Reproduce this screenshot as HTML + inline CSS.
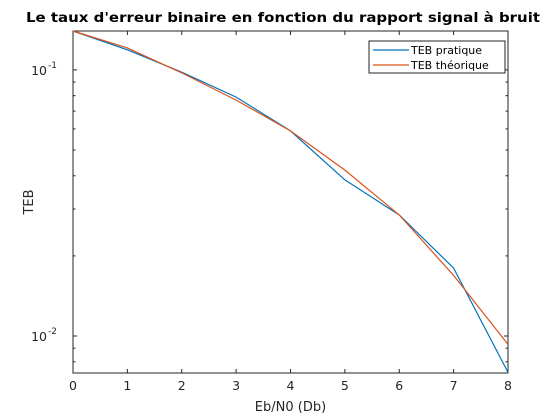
<!DOCTYPE html>
<html><head><meta charset="utf-8"><style>body{margin:0;background:#fff}svg{display:block;font-family:"DejaVu Sans","Liberation Sans",sans-serif}</style></head>
<body>
<svg id="chart" width="560" height="420" xmlns="http://www.w3.org/2000/svg">
<rect width="560" height="420" fill="#fff"/>
<g id="g"></g>
</svg>
<script>
const xValues=[0,1,2,3,4,5,6,7,8];
const tebPratique=[0.140,0.119,0.098,0.079,0.059,0.0386,0.0285,0.018,0.0073];
const tebTheorique=[0.140,0.121,0.0974,0.077,0.059,0.042,0.0285,0.0169,0.0093];
const xTicks=[0,1,2,3,4,5,6,7,8];
const yMajor=[0.1,0.01];
const L=73,R=508,T=31,B=373;
const yMin=0.00726,yMax=0.140;
const sx=v=>L+(v-0)/(8-0)*(R-L);
const sy=v=>B-(Math.log10(v)-Math.log10(yMin))/(Math.log10(yMax)-Math.log10(yMin))*(B-T);
const g=document.getElementById('g');
const NS='http://www.w3.org/2000/svg';
function el(t,a,txt){const e=document.createElementNS(NS,t);for(const k in a)e.setAttribute(k,a[k]);if(txt!==undefined)e.textContent=txt;g.appendChild(e);return e;}
let e;
e=el('rect',{x:L,y:T,width:R-L,height:B-T,fill:'#fff',stroke:'#262626','stroke-width':1});


xTicks.forEach(t=>{const x=sx(t);
 e=el('line',{x1:x,x2:x,y1:B,y2:B-4,stroke:'#262626'});
 
 
 el('line',{x1:x,x2:x,y1:T,y2:T+4,stroke:'#262626'});
 e=el('text',{x:x,y:B+17,'text-anchor':'middle','font-size':12.5,fill:'#262626'},String(t));
 
 
});
for(let d=-3;d<=-1;d++){for(let m=1;m<=9;m++){const v=m*Math.pow(10,d);if(v<yMin||v>yMax)continue;const y=sy(v);const len=m===1?4:2.5;
 e=el('line',{x1:L,x2:L+len,y1:y,y2:y,stroke:'#262626'});
 
 
 el('line',{x1:R,x2:R-len,y1:y,y2:y,stroke:'#262626'});}}
yMajor.forEach(v=>{const y=sy(v);const ex=Math.round(Math.log10(v));
 e=el('text',{x:L-26,y:y+5,'text-anchor':'end','font-size':12.5,fill:'#262626'},'10');
 
 
 el('text',{x:L-25,y:y-2,'text-anchor':'start','font-size':9,fill:'#262626'},String(ex));
});
function series(vals,color,name){const d=vals.map((v,i)=>(i?'L':'M')+sx(xValues[i]).toFixed(1)+','+sy(v).toFixed(1)).join('');
 e=el('path',{d:d,fill:'none',stroke:color,'stroke-width':1.2});
 
 }
series(tebPratique,'#0072bd','series-teb-pratique');
series(tebTheorique,'#d95319','series-teb-theorique');
e=el('text',{x:283,y:22,'text-anchor':'middle','font-size':13.5,'font-weight':'bold',fill:'#000',textLength:514,lengthAdjust:'spacingAndGlyphs'},"Le taux d'erreur binaire en fonction du rapport signal à bruit");


e=el('text',{x:(L+R)/2,y:411,'text-anchor':'middle','font-size':13,fill:'#262626'},'Eb/N0 (Db)');


e=el('text',{x:0,y:0,'text-anchor':'middle','font-size':13,fill:'#262626',transform:`translate(33,${(T+B)/2}) rotate(-90)`},'TEB');


e=el('rect',{x:369,y:41,width:136,height:32,fill:'#fff',stroke:'#262626','stroke-width':1});


e=el('line',{x1:373,x2:409,y1:50,y2:50,stroke:'#0072bd','stroke-width':1.2});


e=el('text',{x:411,y:54,'font-size':11,fill:'#000'},'TEB pratique');


e=el('line',{x1:373,x2:409,y1:65,y2:65,stroke:'#d95319','stroke-width':1.2});


e=el('text',{x:411,y:69,'font-size':11,fill:'#000'},'TEB théorique');


</script>
</body></html>
